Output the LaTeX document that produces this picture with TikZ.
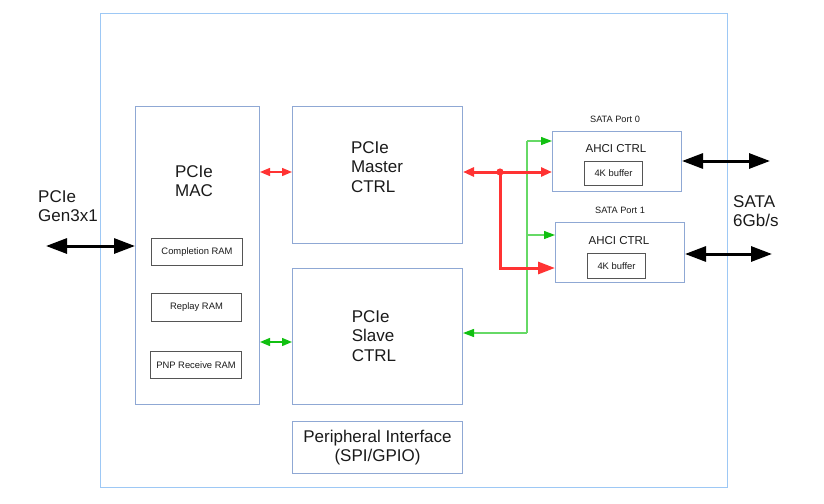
\documentclass[tikz,border=0pt]{standalone}
\usepackage{fontspec}
\setmainfont{Liberation Sans}
\usetikzlibrary{arrows.meta}
\definecolor{outerblue}{HTML}{9DC8F5}
\definecolor{boxblue}{HTML}{8FA8D4}
\definecolor{ramgray}{HTML}{555555}
\definecolor{txt}{HTML}{1A1A1A}
\definecolor{myred}{HTML}{FF3333}
\definecolor{mygreen}{HTML}{11C011}
\definecolor{lightgreen}{HTML}{66D966}
\begin{document}
\begin{tikzpicture}[x=1pt,y=-1pt,
  frame/.style={draw=outerblue, line width=1.3pt, anchor=north west, inner sep=0pt},
  blk/.style={draw=boxblue, line width=1pt, anchor=north west, inner sep=0pt},
  ram/.style={draw=ramgray, line width=1pt, anchor=north west, inner sep=0pt, text=txt, font=\fontsize{9.4}{11}\selectfont},
  big/.style={font=\fontsize{17}{19.5}\selectfont, align=left, inner sep=0pt, text=txt},
  mid/.style={font=\fontsize{11.5}{13}\selectfont, inner sep=0pt, text=txt},
  small/.style={font=\fontsize{9.2}{11}\selectfont, inner sep=0pt, text=txt},
  redthin/.style={draw=myred, line width=1.4pt, {Triangle[length=10pt,width=8pt]}-{Triangle[length=10pt,width=8pt]}},
  greenthin/.style={draw=mygreen, line width=1.4pt, {Triangle[length=10pt,width=8pt]}-{Triangle[length=10pt,width=8pt]}},
  gline/.style={draw=lightgreen, line width=1.3pt},
  gtip/.style={gline, -{Triangle[length=11pt,width=8pt,color=mygreen]}},
  redthick/.style={draw=myred, line width=3pt},
  blackarrow/.style={draw=black, line width=3pt, {Triangle[length=21pt,width=15pt]}-{Triangle[length=21pt,width=15pt]}}
]
\useasboundingbox (0,0) rectangle (824,503);

% frame and blocks
\node[frame, minimum width=627pt, minimum height=474pt] (outer) at (100,13) {};
\node[blk, minimum width=124pt, minimum height=298pt] (mac) at (135,106) {};
\node[blk, minimum width=170pt, minimum height=137pt] (master) at (292,106) {};
\node[blk, minimum width=170pt, minimum height=136pt] (slave) at (292,268) {};
\node[blk, minimum width=170pt, minimum height=52pt, align=center, text=txt,
      font=\fontsize{17}{19.5}\selectfont] (periph) at (292,421) {Peripheral Interface\\(SPI/GPIO)};
\node[blk, minimum width=129pt, minimum height=60pt] (port0) at (552,131) {};
\node[blk, minimum width=129pt, minimum height=60pt] (port1) at (555,222) {};

% RAMs and buffers
\node[ram, minimum width=91pt, minimum height=27pt] (comp) at (151,238) {Completion RAM};
\node[ram, minimum width=90pt, minimum height=28pt] (replay) at (151,293) {Replay RAM};
\node[ram, minimum width=91pt, minimum height=27pt] (pnp) at (150,351) {PNP Receive RAM};
\node[ram, minimum width=58pt, minimum height=24pt] (buf0) at (584,161) {4K buffer};
\node[ram, minimum width=58pt, minimum height=25pt] (buf1) at (587,253) {4K buffer};

% texts
\node[big] (mactxt) at (194,181) {PCIe\\MAC};
\node[big] (mastertxt) at (377,167) {PCIe\\Master\\CTRL};
\node[big] (slavetxt) at (374,336) {PCIe\\Slave\\CTRL};
\node[big, anchor=west] (pcietxt) at (38,206) {PCIe\\Gen3x1};
\node[big, anchor=west] (satatxt) at (733,211) {SATA\\6Gb/s};
\node[mid] (ahci0) at (616,149) {AHCI CTRL};
\node[mid] (ahci1) at (619,241) {AHCI CTRL};
\node[small] (p0lbl) at (615,119) {SATA Port 0};
\node[small] (p1lbl) at (620,210) {SATA Port 1};

% coordinates for connector positions
\coordinate (ry) at (0,172);
\coordinate (gy) at (0,342);
\coordinate (rj) at (500,172);
\coordinate (rb) at (500,268);
\coordinate (g0) at (527,141);
\coordinate (g1) at (527,235);
\coordinate (g2) at (527,333);
\coordinate (pl) at (46,246);
\coordinate (s0) at (770,161);
\coordinate (s1) at (772,254);

% MAC <-> controllers
\draw[redthin] (mac.east |- ry) -- (master.west |- ry);
\draw[greenthin] (mac.east |- gy) -- (slave.west |- gy);

% green bus
\draw[gline] (g0) -- (g2);
\draw[gtip] (g0) -- (port0.west |- g0);
\draw[gtip] (g1) -- (port1.west |- g1);
\draw[gtip] (g2) -- (slave.east |- g2);

% red thick bus
\draw[redthick, {Triangle[length=11pt,width=9pt]}-{Triangle[length=11pt,width=9pt]}]
  (master.east |- rj) -- (port0.west |- rj);
\draw[redthick, -{Triangle[length=17pt,width=12pt]}] (rj) |- (port1.west |- rb);
\fill[myred] (rj) circle (3.6pt);

% external black arrows
\draw[blackarrow] (pl) -- (mac.west |- pl);
\draw[blackarrow] (port0.east |- s0) -- (s0);
\draw[blackarrow] (port1.east |- s1) -- (s1);
\end{tikzpicture}
\end{document}
